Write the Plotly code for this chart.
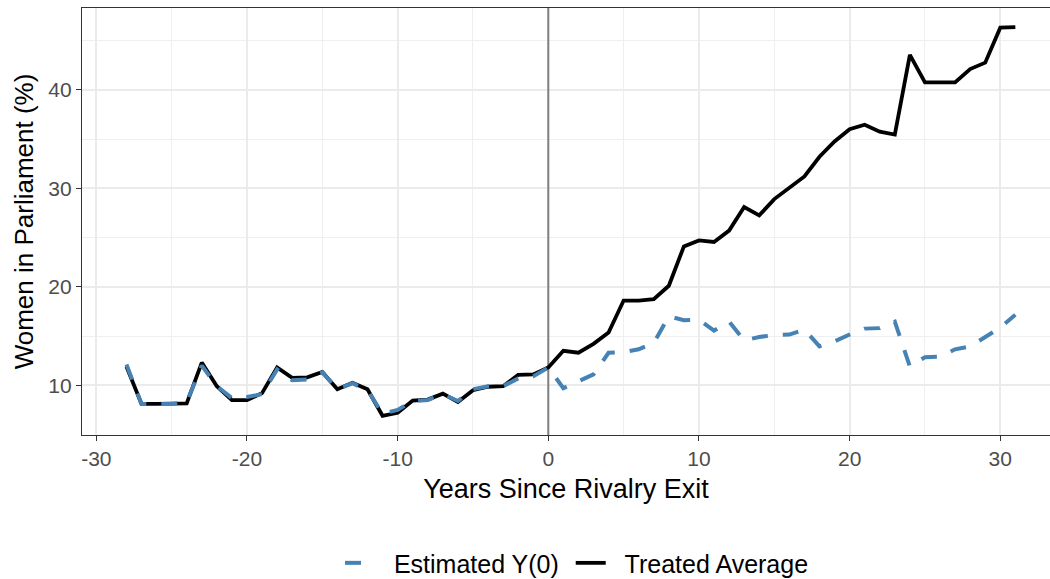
import plotly.graph_objects as go

years = list(range(-28, 32))

treated_average = [
    11.9, 8.1, 8.1, 8.1, 8.15, 12.3, 9.9, 8.5, 8.5, 9.2,
    11.8, 10.75, 10.8, 11.35, 9.6, 10.25, 9.6, 6.9, 7.2, 8.45,
    8.55, 9.15, 8.3, 9.5, 9.85, 9.9, 11.05, 11.1, 11.8, 13.5,
    13.3, 14.2, 15.35, 18.6, 18.6, 18.75, 20.1, 24.1, 24.7, 24.55,
    25.7, 28.1, 27.25, 28.9, 30.0, 31.2, 33.2, 34.75, 36.0, 36.45,
    35.75, 35.45, 43.55, 40.75, 40.75, 40.75, 42.1, 42.75, 46.3, 46.35,
]

estimated_y0 = [
    12.1, 8.1, 8.1, 8.1, 8.3, 12.0, 9.9, 8.7, 8.8, 9.1,
    11.6, 10.5, 10.6, 11.3, 9.6, 10.2, 9.5, 7.1, 7.5, 8.4,
    8.5, 9.1, 8.4, 9.6, 9.9, 9.9, 10.7, 10.9, 11.8, 9.7,
    10.4, 11.1, 13.3, 13.35, 13.65, 14.3, 17.0, 16.6, 16.65, 15.55,
    16.45, 14.55, 14.9, 15.1, 15.15, 15.65, 13.95, 14.45, 15.15, 15.75,
    15.8, 16.45, 11.9, 12.85, 12.9, 13.65, 13.95, 14.9, 15.85, 17.15,
]

x_ticks = [-30, -20, -10, 0, 10, 20, 30]
y_ticks = [10, 20, 30, 40]
y_range = [4.95, 48.3]
exit_year = 0

FONT = "Liberation Sans, Arial, Helvetica, sans-serif"
NB = "\u00a0"

fig = go.Figure()

# reference line at the rivalry exit
fig.add_trace(go.Scatter(
    x=[exit_year, exit_year], y=y_range, mode="lines", showlegend=False,
    hoverinfo="skip", line=dict(color="#808080", width=2),
))
fig.add_trace(go.Scatter(
    x=years, y=treated_average, mode="lines", name=NB * 2 + "Treated Average",
    line=dict(color="black", width=3.8), legendrank=2,
))
fig.add_trace(go.Scatter(
    x=years, y=estimated_y0, mode="lines", name=NB * 2 + "Estimated Y(0)" + NB,
    line=dict(color="#4682B4", width=4, dash="16px,15px"), legendrank=1,
))

fig.update_layout(
    width=1050, height=579,
    margin=dict(l=82, r=0, t=8, b=144, autoexpand=False),
    paper_bgcolor="white", plot_bgcolor="white",
    font=dict(family=FONT, color="black"),
    showlegend=True,
    legend=dict(
        orientation="h", x=(340 - 82) / 968, xanchor="left", y=-0.30, yanchor="middle",
        font=dict(size=25, color="black"), bgcolor="rgba(0,0,0,0)",
    ),
)

fig.update_xaxes(
    range=[-30.95, 33.3], tickvals=x_ticks, ticktext=[str(v) for v in x_ticks],
    showgrid=True, gridcolor="#EBEBEB", gridwidth=1.6,
    minor=dict(dtick=5, tick0=0, showgrid=True, gridcolor="#EFEFEF", gridwidth=1.0),
    zeroline=False, automargin=False,
    showline=True, linecolor="#333333", linewidth=1.4, mirror=True,
    ticks="outside", ticklen=5, tickwidth=1.4, tickcolor="#333333",
    tickfont=dict(size=21, color="#4D4D4D"),
    title=dict(text="Years Since Rivalry Exit", font=dict(size=27, color="black"), standoff=9),
)
fig.update_yaxes(
    range=y_range, tickvals=y_ticks, ticktext=[str(v) for v in y_ticks],
    showgrid=True, gridcolor="#EBEBEB", gridwidth=1.6,
    minor=dict(dtick=5, tick0=0, showgrid=True, gridcolor="#EFEFEF", gridwidth=1.0),
    zeroline=False, automargin=False,
    showline=True, linecolor="#333333", linewidth=1.4, mirror=False,
    ticks="outside", ticklen=5, tickwidth=1.4, tickcolor="#333333",
    tickfont=dict(size=21, color="#4D4D4D"),
    title=dict(text="Women in Parliament (%)", font=dict(size=26, color="black"), standoff=7),
)

fig.write_html(
    "out.html",
    config={"displayModeBar": False},
    post_script="document.body.style.margin='0';",
)
